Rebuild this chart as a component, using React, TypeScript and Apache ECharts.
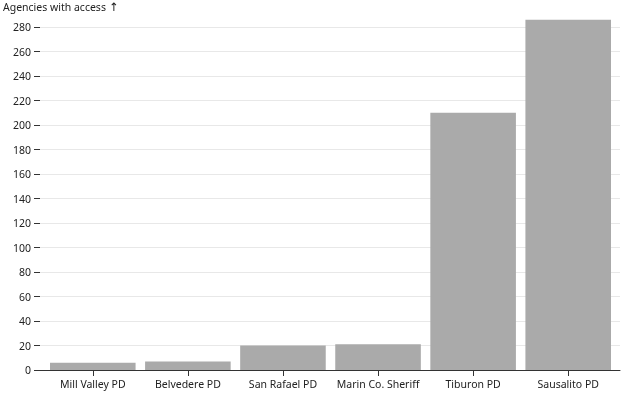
import React, { useEffect, useRef } from "react";
import * as echarts from "echarts";

const categories = ["Mill Valley PD", "Belvedere PD", "San Rafael PD", "Marin Co. Sheriff", "Tiburon PD", "Sausalito PD"];
const agencies = [6, 7, 20, 21, 210, 286];
const yTitle = "Agencies with access";
const yArrow = "↑";

const FONT = "Noto Sans";
const FS = 10.5;
const TOP = 27;
const BOTTOM = 30;

export default function App() {
  const ref = useRef<HTMLDivElement>(null);
  useEffect(() => {
    if (!ref.current) return;
    const chart = echarts.init(ref.current, undefined, { renderer: "svg" });
    chart.setOption({
      animation: false,
      textStyle: { fontFamily: FONT },
      grid: [
        { left: 40, right: 20, top: TOP, bottom: BOTTOM },
        { left: 45.25, right: 24.25, top: TOP, bottom: BOTTOM },
      ],
      xAxis: [
        {
          gridIndex: 0,
          type: "value",
          min: 0,
          max: 1,
          axisLine: { show: true, onZero: false, lineStyle: { color: "#333", width: 1 } },
          axisTick: { show: false },
          axisLabel: { show: false },
          splitLine: { show: false },
        },
        {
          gridIndex: 1,
          type: "category",
          data: categories,
          axisLine: { show: false },
          axisTick: { show: true, alignWithLabel: true, length: 6, lineStyle: { color: "#333" } },
          axisLabel: { color: "#222", fontSize: FS, margin: 8, fontFamily: FONT, interval: 0 },
          splitLine: { show: false },
        },
      ],
      yAxis: [
        {
          gridIndex: 0,
          type: "value",
          min: 0,
          max: 280,
          interval: 20,
          axisLine: { show: false },
          axisTick: { show: true, length: 6, lineStyle: { color: "#333" } },
          axisLabel: { color: "#222", fontSize: FS, margin: 9, fontFamily: FONT },
          splitLine: { show: true, lineStyle: { color: "#e8e8e8", width: 1 } },
        },
        {
          gridIndex: 1,
          type: "value",
          min: 0,
          max: 280,
          interval: 20,
          show: false,
          splitLine: { show: false },
        },
      ],
      graphic: [
        {
          type: "text",
          left: 3,
          top: 1,
          style: {
            text: "{t|" + yTitle + "} {a|" + yArrow + "}",
            rich: {
              t: { fontSize: FS, fill: "#222", fontFamily: FONT },
              a: { fontSize: FS + 1, fill: "#222", fontFamily: "DejaVu Sans" },
            },
          },
        },
      ],
      series: [
        {
          type: "bar",
          xAxisIndex: 1,
          yAxisIndex: 1,
          data: agencies,
          barCategoryGap: "10%",
          clip: false,
          itemStyle: { color: "#aaaaaa" },
          z: 1,
        },
        {
          type: "line",
          xAxisIndex: 0,
          yAxisIndex: 0,
          data: [],
        },
      ],
    });
    return () => chart.dispose();
  }, []);
  return <div ref={ref} style={{ position: "fixed", left: 0, top: 0, width: 640, height: 400 }} />;
}
